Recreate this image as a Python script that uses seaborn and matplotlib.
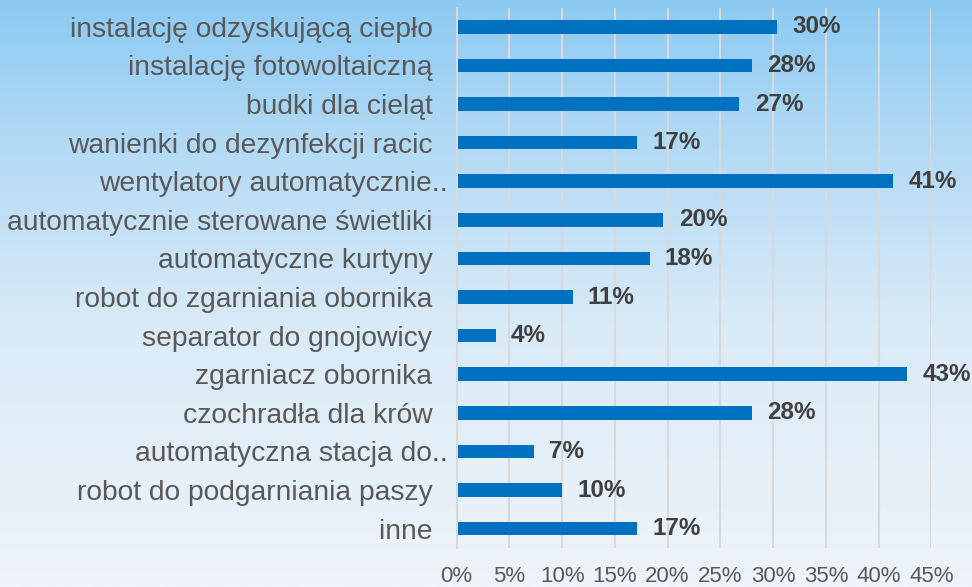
import numpy as np
import pandas as pd
import seaborn as sns
from matplotlib import pyplot as plt
from matplotlib.colors import LinearSegmentedColormap

# dane (w %)
kategorie = [
    "instalację odzyskującą ciepło  ",
    "instalację fotowoltaiczną  ",
    "budki dla cieląt  ",
    "wanienki do dezynfekcji racic  ",
    "wentylatory automatycznie..",
    "automatycznie sterowane świetliki  ",
    "automatyczne kurtyny  ",
    "robot do zgarniania obornika  ",
    "separator do gnojowicy  ",
    "zgarniacz obornika  ",
    "czochradła dla krów  ",
    "automatyczna stacja do..",
    "robot do podgarniania paszy  ",
    "inne  ",
]
wartosci = [30.4, 28.0, 26.8, 17.1, 41.4, 19.6, 18.3, 11.0, 3.7, 42.7, 28.0, 7.3, 10.0, 17.1]
etykiety = ["30%", "28%", "27%", "17%", "41%", "20%", "18%", "11%", "4%", "43%", "28%", "7%", "10%", "17%"]
ticki_x = [0, 5, 10, 15, 20, 25, 30, 35, 40, 45]

df = pd.DataFrame({"kategoria": kategorie, "wartosc": wartosci})

sns.set_style("white")
plt.rcParams['font.family'] = ['Liberation Sans', 'DejaVu Sans']

fig = plt.figure(figsize=(9.72, 5.87), dpi=100)

# tlo - niebo (gradient)
bg = fig.add_axes([0, 0, 1, 1], zorder=-1)
niebo = LinearSegmentedColormap.from_list(
    "niebo", [(0.0, "#8ccaf2"), (0.25, "#b3daf5"), (0.55, "#d9eaf7"), (1.0, "#eef4f9")])
grad = np.linspace(0, 1, 256).reshape(-1, 1)
bg.imshow(grad, aspect="auto", cmap=niebo, extent=[0, 1, 0, 1], origin="upper")
bg.axis("off")

ax = fig.add_axes([0.4697, 0.0666, 0.4886, 0.9206])
ax.patch.set_alpha(0)

sns.barplot(data=df, x="wartosc", y="kategoria", orient="h", color="#0070C0",
            width=0.35, saturation=1, linewidth=0, ax=ax)

ax.bar_label(ax.containers[0], labels=etykiety, padding=11, fontsize=17.5,
             fontweight="bold", color="#404040")

ax.set_xlim(0, 45)
ax.set_xticks(ticki_x)
ax.set_xticklabels([f"{t}%" for t in ticki_x])
ax.xaxis.grid(True, color="#d9d9d9", linewidth=1.5)
ax.set_axisbelow(True)
for s in ["top", "right", "bottom"]:
    ax.spines[s].set_visible(False)
ax.spines["left"].set_color("#d9d9d9")
ax.spines["left"].set_linewidth(1.5)

ax.tick_params(axis="y", length=0, pad=6, labelsize=20.3, labelcolor="#595959")
ax.tick_params(axis="x", length=0, pad=13, labelsize=16, labelcolor="#595959")
ax.set_xlabel("")
ax.set_ylabel("")

plt.savefig("out.png", dpi=100)
